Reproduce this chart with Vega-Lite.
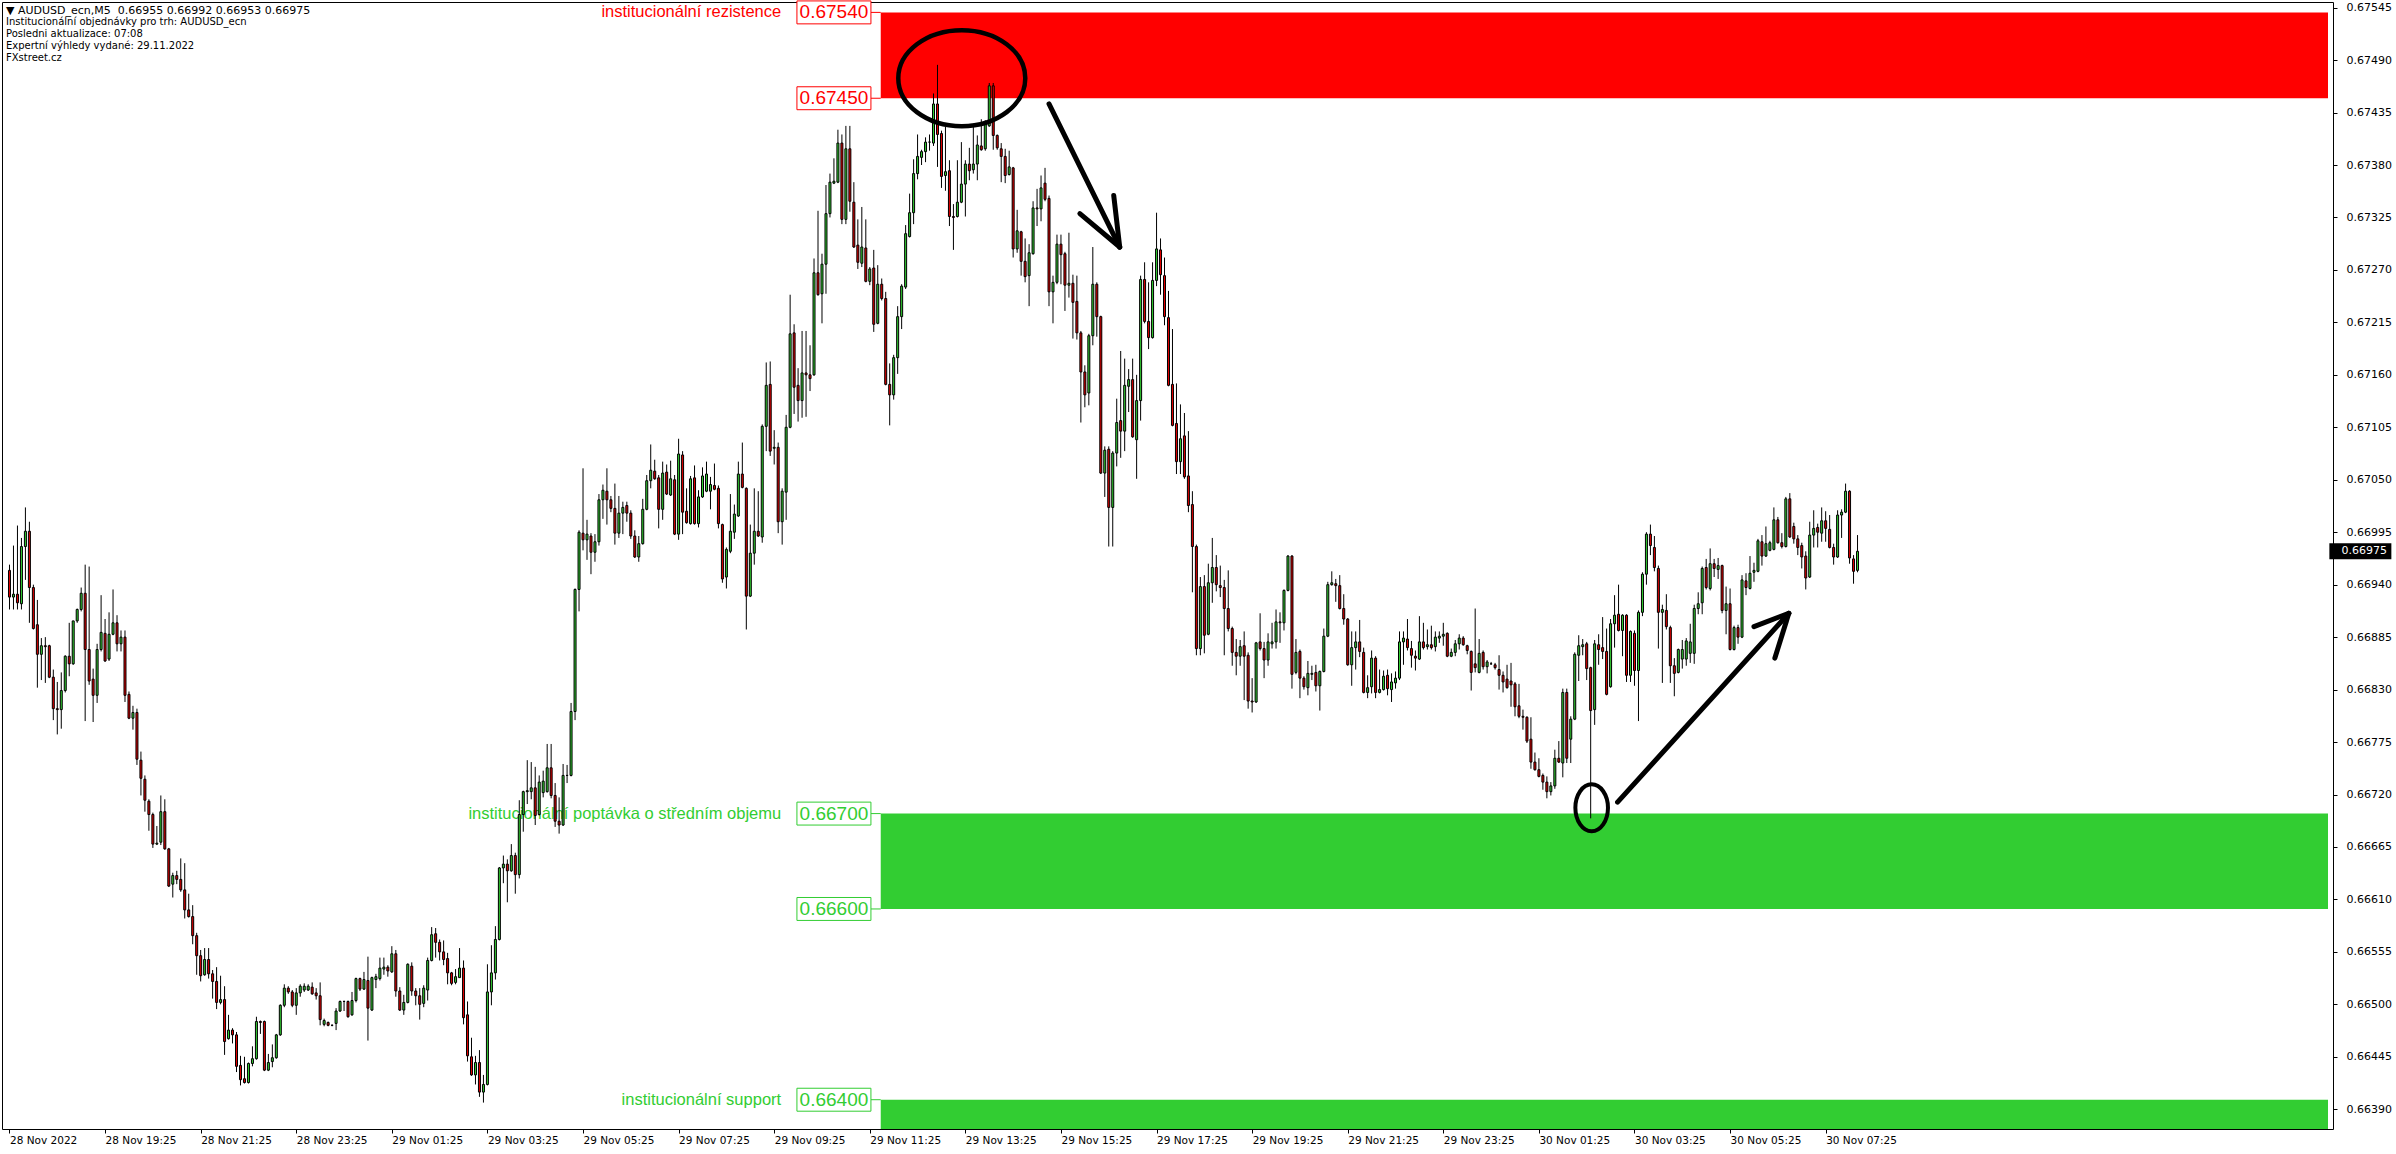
{
"$schema": "https://vega.github.io/schema/vega-lite/v6.json",
"width": 2331, "height": 1127,
"autosize": {"type": "none"},
"padding": {"left": 2, "top": 2, "right": 63, "bottom": 25},
"background": "white",
"config": {"view": {"stroke": "black", "strokeWidth": 1}, "font": "DejaVu Sans"},
"title": {"text": "▼ AUDUSD_ecn,M5\u00a0\u00a00.66955 0.66992 0.66953 0.66975", "subtitle": ["Institucionální objednávky pro trh: AUDUSD_ecn", "Posledni aktualizace: 07:08", "Expertní výhledy vydané: 29.11.2022", "FXstreet.cz"], "anchor": "start", "frame": "group", "orient": "top", "offset": -64, "dx": 4, "font": "DejaVu Sans", "fontSize": 11, "fontWeight": "normal", "color": "black", "subtitleFont": "DejaVu Sans", "subtitleFontSize": 10, "subtitleColor": "black", "subtitleLineHeight": 12, "subtitlePadding": 1},
"datasets": {
"zones": [{"kind": "r", "lo": 0.6745, "hi": 0.6754}, {"kind": "g", "lo": 0.666, "hi": 0.667}, {"kind": "g", "lo": 0.663, "hi": 0.664}],
"names": [{"kind": "r", "p": 0.6754, "name": "institucionální rezistence"}, {"kind": "g", "p": 0.667, "name": "institucionální poptávka o středním objemu"}, {"kind": "g", "p": 0.664, "name": "institucionální support"}],
"levels": [{"kind": "r", "p": 0.6754}, {"kind": "r", "p": 0.6745}, {"kind": "g", "p": 0.667}, {"kind": "g", "p": 0.666}, {"kind": "g", "p": 0.664}],
"arrows": [{"i": 261, "p": 0.67444, "i2": 278.75, "p2": 0.67294}, {"i": 278.75, "p": 0.67294, "i2": 277.25, "p2": 0.67348}, {"i": 278.75, "p": 0.67294, "i2": 268.75, "p2": 0.67329}, {"i": 403.75, "p": 0.66712, "i2": 446.75, "p2": 0.6691}, {"i": 446.75, "p": 0.6691, "i2": 438, "p2": 0.66896}, {"i": 446.75, "p": 0.6691, "i2": 443.25, "p2": 0.66863}],
"candles": [
{"i":0,"o":0.66955,"h":0.66961,"l":0.66914,"c":0.66927},
{"i":1,"o":0.66927,"h":0.66981,"l":0.66914,"c":0.6693},
{"i":2,"o":0.6693,"h":0.67002,"l":0.66914,"c":0.66921},
{"i":3,"o":0.6692,"h":0.66989,"l":0.66914,"c":0.6698},
{"i":4,"o":0.6698,"h":0.67021,"l":0.66945,"c":0.66996},
{"i":5,"o":0.66996,"h":0.67006,"l":0.669,"c":0.66937},
{"i":6,"o":0.66937,"h":0.6694,"l":0.66893,"c":0.66894},
{"i":7,"o":0.66898,"h":0.66924,"l":0.66832,"c":0.66867},
{"i":8,"o":0.66867,"h":0.66884,"l":0.6684,"c":0.66876},
{"i":9,"o":0.66876,"h":0.66885,"l":0.66837,"c":0.66875},
{"i":10,"o":0.66876,"h":0.66877,"l":0.66842,"c":0.66843},
{"i":11,"o":0.66843,"h":0.66851,"l":0.66798,"c":0.6681},
{"i":12,"o":0.6681,"h":0.66838,"l":0.66783,"c":0.66809},
{"i":13,"o":0.66809,"h":0.66848,"l":0.66789,"c":0.66829},
{"i":14,"o":0.66829,"h":0.66866,"l":0.66827,"c":0.66865},
{"i":15,"o":0.66865,"h":0.669,"l":0.66844,"c":0.66857},
{"i":16,"o":0.66857,"h":0.66902,"l":0.66856,"c":0.66902},
{"i":17,"o":0.66902,"h":0.66915,"l":0.669,"c":0.66914},
{"i":18,"o":0.66914,"h":0.66937,"l":0.66912,"c":0.66931},
{"i":19,"o":0.66931,"h":0.66961,"l":0.66797,"c":0.66872},
{"i":20,"o":0.66872,"h":0.66959,"l":0.66835,"c":0.66839},
{"i":21,"o":0.66841,"h":0.66852,"l":0.66796,"c":0.66824},
{"i":22,"o":0.66824,"h":0.66878,"l":0.66816,"c":0.66872},
{"i":23,"o":0.66872,"h":0.66929,"l":0.6687,"c":0.6689},
{"i":24,"o":0.66889,"h":0.66904,"l":0.66859,"c":0.6686},
{"i":25,"o":0.66862,"h":0.66911,"l":0.6686,"c":0.66888},
{"i":26,"o":0.66888,"h":0.66935,"l":0.66887,"c":0.669},
{"i":27,"o":0.669,"h":0.66908,"l":0.6687,"c":0.66878},
{"i":28,"o":0.66878,"h":0.66892,"l":0.6687,"c":0.66885},
{"i":29,"o":0.66885,"h":0.66892,"l":0.66817,"c":0.66824},
{"i":30,"o":0.66825,"h":0.66828,"l":0.66799,"c":0.668},
{"i":31,"o":0.668,"h":0.66813,"l":0.66788,"c":0.66806},
{"i":32,"o":0.66806,"h":0.6681,"l":0.66751,"c":0.66757},
{"i":33,"o":0.66756,"h":0.66765,"l":0.66719,"c":0.66737},
{"i":34,"o":0.66736,"h":0.6674,"l":0.66702,"c":0.66714},
{"i":35,"o":0.66713,"h":0.66715,"l":0.66682,"c":0.66699},
{"i":36,"o":0.66699,"h":0.66701,"l":0.66664,"c":0.66668},
{"i":37,"o":0.66668,"h":0.66687,"l":0.66667,"c":0.66669},
{"i":38,"o":0.6667,"h":0.66719,"l":0.66667,"c":0.66702},
{"i":39,"o":0.66702,"h":0.66715,"l":0.66662,"c":0.66663},
{"i":40,"o":0.66663,"h":0.66664,"l":0.66623,"c":0.66624},
{"i":41,"o":0.66626,"h":0.66638,"l":0.66612,"c":0.66635},
{"i":42,"o":0.66635,"h":0.6664,"l":0.66626,"c":0.66631},
{"i":43,"o":0.66631,"h":0.66653,"l":0.66618,"c":0.6662},
{"i":44,"o":0.6662,"h":0.66648,"l":0.6659,"c":0.66599},
{"i":45,"o":0.66599,"h":0.66616,"l":0.66591,"c":0.66592},
{"i":46,"o":0.66592,"h":0.66604,"l":0.66563,"c":0.66572},
{"i":47,"o":0.66572,"h":0.66575,"l":0.66531,"c":0.66551},
{"i":48,"o":0.66551,"h":0.66557,"l":0.66524,"c":0.6653},
{"i":49,"o":0.66531,"h":0.66559,"l":0.6653,"c":0.66547},
{"i":50,"o":0.66547,"h":0.66559,"l":0.66527,"c":0.66532},
{"i":51,"o":0.66532,"h":0.66536,"l":0.66506,"c":0.66524},
{"i":52,"o":0.66524,"h":0.66539,"l":0.66495,"c":0.66502},
{"i":53,"o":0.66502,"h":0.6653,"l":0.665,"c":0.66505},
{"i":54,"o":0.66505,"h":0.66519,"l":0.66447,"c":0.66461},
{"i":55,"o":0.66464,"h":0.66489,"l":0.66463,"c":0.66473},
{"i":56,"o":0.66473,"h":0.66475,"l":0.66459,"c":0.66468},
{"i":57,"o":0.66468,"h":0.66471,"l":0.66429,"c":0.66435},
{"i":58,"o":0.66436,"h":0.66446,"l":0.66415,"c":0.66421},
{"i":59,"o":0.66422,"h":0.66445,"l":0.66417,"c":0.66418},
{"i":60,"o":0.66418,"h":0.66439,"l":0.66417,"c":0.66438},
{"i":61,"o":0.66438,"h":0.66456,"l":0.66435,"c":0.66443},
{"i":62,"o":0.66443,"h":0.66487,"l":0.66442,"c":0.66482},
{"i":63,"o":0.66482,"h":0.66483,"l":0.66469,"c":0.66481},
{"i":64,"o":0.66482,"h":0.66483,"l":0.6643,"c":0.66431},
{"i":65,"o":0.66431,"h":0.66448,"l":0.6643,"c":0.66439},
{"i":66,"o":0.6644,"h":0.66458,"l":0.66434,"c":0.66444},
{"i":67,"o":0.66444,"h":0.66469,"l":0.66443,"c":0.66468},
{"i":68,"o":0.66468,"h":0.665,"l":0.66467,"c":0.66499},
{"i":69,"o":0.66499,"h":0.66521,"l":0.66497,"c":0.66517},
{"i":70,"o":0.66517,"h":0.66519,"l":0.66511,"c":0.66513},
{"i":71,"o":0.66513,"h":0.66515,"l":0.66497,"c":0.66499},
{"i":72,"o":0.66499,"h":0.66517,"l":0.66489,"c":0.66512},
{"i":73,"o":0.66512,"h":0.66521,"l":0.66508,"c":0.66519},
{"i":74,"o":0.66515,"h":0.66522,"l":0.66513,"c":0.66519},
{"i":75,"o":0.66515,"h":0.66521,"l":0.66514,"c":0.66519},
{"i":76,"o":0.66518,"h":0.66523,"l":0.6651,"c":0.66511},
{"i":77,"o":0.66512,"h":0.66517,"l":0.66505,"c":0.66509},
{"i":78,"o":0.66509,"h":0.66523,"l":0.66478,"c":0.66484},
{"i":79,"o":0.66479,"h":0.66485,"l":0.66477,"c":0.66483},
{"i":80,"o":0.66481,"h":0.66482,"l":0.66477,"c":0.66478},
{"i":81,"o":0.66478,"h":0.66479,"l":0.66477,"c":0.66478},
{"i":82,"o":0.6648,"h":0.66496,"l":0.66473,"c":0.66493},
{"i":83,"o":0.66493,"h":0.66504,"l":0.66492,"c":0.66503},
{"i":84,"o":0.66503,"h":0.66504,"l":0.66493,"c":0.66503},
{"i":85,"o":0.66503,"h":0.66504,"l":0.66486,"c":0.66487},
{"i":86,"o":0.66489,"h":0.66513,"l":0.66488,"c":0.66504},
{"i":87,"o":0.66504,"h":0.66528,"l":0.66502,"c":0.66527},
{"i":88,"o":0.66527,"h":0.66528,"l":0.66514,"c":0.66516},
{"i":89,"o":0.66516,"h":0.66534,"l":0.66515,"c":0.66526},
{"i":90,"o":0.66525,"h":0.6655,"l":0.66462,"c":0.66496},
{"i":91,"o":0.66494,"h":0.66529,"l":0.66493,"c":0.66528},
{"i":92,"o":0.66526,"h":0.66532,"l":0.66517,"c":0.66529},
{"i":93,"o":0.66527,"h":0.66549,"l":0.66525,"c":0.66538},
{"i":94,"o":0.66537,"h":0.66549,"l":0.66531,"c":0.66539},
{"i":95,"o":0.66539,"h":0.66541,"l":0.66529,"c":0.66535},
{"i":96,"o":0.66534,"h":0.66561,"l":0.66533,"c":0.66553},
{"i":97,"o":0.66553,"h":0.66557,"l":0.66508,"c":0.66514},
{"i":98,"o":0.66514,"h":0.66518,"l":0.66493,"c":0.66494},
{"i":99,"o":0.66494,"h":0.6651,"l":0.66489,"c":0.66502},
{"i":100,"o":0.66502,"h":0.66543,"l":0.66501,"c":0.66542},
{"i":101,"o":0.6654,"h":0.66544,"l":0.66509,"c":0.66514},
{"i":102,"o":0.66514,"h":0.66517,"l":0.66499,"c":0.66509},
{"i":103,"o":0.66509,"h":0.66517,"l":0.66484,"c":0.665},
{"i":104,"o":0.66501,"h":0.6652,"l":0.66497,"c":0.66517},
{"i":105,"o":0.66515,"h":0.66549,"l":0.66504,"c":0.66546},
{"i":106,"o":0.66546,"h":0.66581,"l":0.66545,"c":0.66573},
{"i":107,"o":0.66574,"h":0.6658,"l":0.66549,"c":0.66565},
{"i":108,"o":0.66565,"h":0.66568,"l":0.66546,"c":0.66555},
{"i":109,"o":0.66555,"h":0.66567,"l":0.66541,"c":0.66547},
{"i":110,"o":0.66548,"h":0.66554,"l":0.66521,"c":0.66533},
{"i":111,"o":0.66533,"h":0.66534,"l":0.6652,"c":0.66522},
{"i":112,"o":0.66523,"h":0.66537,"l":0.66521,"c":0.66529},
{"i":113,"o":0.66528,"h":0.66559,"l":0.66528,"c":0.66538},
{"i":114,"o":0.66538,"h":0.66546,"l":0.66479,"c":0.66486},
{"i":115,"o":0.66489,"h":0.66503,"l":0.6644,"c":0.66446},
{"i":116,"o":0.66445,"h":0.66465,"l":0.66425,"c":0.66426},
{"i":117,"o":0.66426,"h":0.66446,"l":0.66416,"c":0.66439},
{"i":118,"o":0.66439,"h":0.66452,"l":0.66403,"c":0.66408},
{"i":119,"o":0.66408,"h":0.66426,"l":0.66397,"c":0.66416},
{"i":120,"o":0.66416,"h":0.66542,"l":0.66415,"c":0.66513},
{"i":121,"o":0.66513,"h":0.66562,"l":0.66499,"c":0.66533},
{"i":122,"o":0.66533,"h":0.66582,"l":0.66526,"c":0.66568},
{"i":123,"o":0.66568,"h":0.66644,"l":0.66567,"c":0.66643},
{"i":124,"o":0.66643,"h":0.66656,"l":0.66627,"c":0.66647},
{"i":125,"o":0.66647,"h":0.66652,"l":0.66607,"c":0.6664},
{"i":126,"o":0.6664,"h":0.66668,"l":0.66639,"c":0.66656},
{"i":127,"o":0.66656,"h":0.66659,"l":0.66616,"c":0.66636},
{"i":128,"o":0.66636,"h":0.66714,"l":0.66632,"c":0.66699},
{"i":129,"o":0.66699,"h":0.66724,"l":0.66681,"c":0.66723},
{"i":130,"o":0.66723,"h":0.66756,"l":0.6671,"c":0.66724},
{"i":131,"o":0.66723,"h":0.66754,"l":0.66715,"c":0.66727},
{"i":132,"o":0.66727,"h":0.66749,"l":0.66688,"c":0.66698},
{"i":133,"o":0.66699,"h":0.6674,"l":0.66698,"c":0.66733},
{"i":134,"o":0.66722,"h":0.66745,"l":0.66717,"c":0.66734},
{"i":135,"o":0.66723,"h":0.66773,"l":0.66722,"c":0.66748},
{"i":136,"o":0.66748,"h":0.66773,"l":0.66716,"c":0.66719},
{"i":137,"o":0.66719,"h":0.66732,"l":0.66686,"c":0.66692},
{"i":138,"o":0.66692,"h":0.66717,"l":0.66679,"c":0.66688},
{"i":139,"o":0.66688,"h":0.66752,"l":0.66687,"c":0.6674},
{"i":140,"o":0.6674,"h":0.66751,"l":0.66732,"c":0.6674},
{"i":141,"o":0.6674,"h":0.66816,"l":0.66739,"c":0.66807},
{"i":142,"o":0.66807,"h":0.66936,"l":0.66798,"c":0.66935},
{"i":143,"o":0.66935,"h":0.66997,"l":0.66912,"c":0.66995},
{"i":144,"o":0.66994,"h":0.67062,"l":0.66976,"c":0.66987},
{"i":145,"o":0.66987,"h":0.67008,"l":0.66966,"c":0.66993},
{"i":146,"o":0.66991,"h":0.66994,"l":0.66951,"c":0.66974},
{"i":147,"o":0.66974,"h":0.66993,"l":0.66964,"c":0.66985},
{"i":148,"o":0.66985,"h":0.67035,"l":0.66981,"c":0.67029},
{"i":149,"o":0.67029,"h":0.67045,"l":0.67009,"c":0.67039},
{"i":150,"o":0.67038,"h":0.67062,"l":0.67003,"c":0.67029},
{"i":151,"o":0.67029,"h":0.67033,"l":0.67016,"c":0.6702},
{"i":152,"o":0.6702,"h":0.67046,"l":0.66982,"c":0.66994},
{"i":153,"o":0.66994,"h":0.67033,"l":0.66989,"c":0.67015},
{"i":154,"o":0.67015,"h":0.67027,"l":0.66993,"c":0.67021},
{"i":155,"o":0.67023,"h":0.67027,"l":0.67006,"c":0.67015},
{"i":156,"o":0.67015,"h":0.67018,"l":0.66988,"c":0.66991},
{"i":157,"o":0.66991,"h":0.66997,"l":0.66968,"c":0.66969},
{"i":158,"o":0.66969,"h":0.66991,"l":0.66964,"c":0.66983},
{"i":159,"o":0.66983,"h":0.6703,"l":0.66982,"c":0.67019},
{"i":160,"o":0.67019,"h":0.67055,"l":0.67018,"c":0.67049},
{"i":161,"o":0.67049,"h":0.67087,"l":0.67041,"c":0.6706},
{"i":162,"o":0.67059,"h":0.67071,"l":0.6705,"c":0.67051},
{"i":163,"o":0.67052,"h":0.67055,"l":0.66999,"c":0.67019},
{"i":164,"o":0.67019,"h":0.67069,"l":0.67008,"c":0.67057},
{"i":165,"o":0.67058,"h":0.67066,"l":0.67034,"c":0.67035},
{"i":166,"o":0.67034,"h":0.6707,"l":0.67033,"c":0.67051},
{"i":167,"o":0.6705,"h":0.67055,"l":0.66992,"c":0.66993},
{"i":168,"o":0.66993,"h":0.67093,"l":0.66987,"c":0.67077},
{"i":169,"o":0.67076,"h":0.6708,"l":0.66993,"c":0.67016},
{"i":170,"o":0.67017,"h":0.67041,"l":0.67004,"c":0.67005},
{"i":171,"o":0.67004,"h":0.67054,"l":0.67003,"c":0.67051},
{"i":172,"o":0.67052,"h":0.67065,"l":0.67003,"c":0.67004},
{"i":173,"o":0.67004,"h":0.67039,"l":0.67,"c":0.67032},
{"i":174,"o":0.67032,"h":0.67063,"l":0.67031,"c":0.67054},
{"i":175,"o":0.67038,"h":0.67069,"l":0.67037,"c":0.67056},
{"i":176,"o":0.67038,"h":0.67053,"l":0.67019,"c":0.67045},
{"i":177,"o":0.67044,"h":0.67067,"l":0.67039,"c":0.6704},
{"i":178,"o":0.67041,"h":0.67044,"l":0.66999,"c":0.67004},
{"i":179,"o":0.67003,"h":0.67004,"l":0.66942,"c":0.66946},
{"i":180,"o":0.66948,"h":0.66979,"l":0.66936,"c":0.66977},
{"i":181,"o":0.66975,"h":0.67035,"l":0.66973,"c":0.66996},
{"i":182,"o":0.66995,"h":0.67024,"l":0.66988,"c":0.67014},
{"i":183,"o":0.67012,"h":0.67069,"l":0.67011,"c":0.67056},
{"i":184,"o":0.67056,"h":0.67089,"l":0.67041,"c":0.67042},
{"i":185,"o":0.67041,"h":0.67042,"l":0.66893,"c":0.66928},
{"i":186,"o":0.66928,"h":0.67003,"l":0.66927,"c":0.66973},
{"i":187,"o":0.66973,"h":0.67041,"l":0.66961,"c":0.66996},
{"i":188,"o":0.66996,"h":0.67038,"l":0.6699,"c":0.66991},
{"i":189,"o":0.6699,"h":0.67108,"l":0.66984,"c":0.67106},
{"i":190,"o":0.67106,"h":0.67173,"l":0.6708,"c":0.67149},
{"i":191,"o":0.6715,"h":0.67174,"l":0.67075,"c":0.6708},
{"i":192,"o":0.67083,"h":0.67102,"l":0.67066,"c":0.67084},
{"i":193,"o":0.67084,"h":0.67089,"l":0.66994,"c":0.67006},
{"i":194,"o":0.67006,"h":0.67041,"l":0.66982,"c":0.67038},
{"i":195,"o":0.67037,"h":0.67118,"l":0.67008,"c":0.67105},
{"i":196,"o":0.67105,"h":0.67244,"l":0.67104,"c":0.67203},
{"i":197,"o":0.67204,"h":0.67213,"l":0.67119,"c":0.67147},
{"i":198,"o":0.67149,"h":0.67167,"l":0.67111,"c":0.67133},
{"i":199,"o":0.67133,"h":0.67206,"l":0.67115,"c":0.67162},
{"i":200,"o":0.67162,"h":0.67206,"l":0.67116,"c":0.6716},
{"i":201,"o":0.6716,"h":0.67191,"l":0.67143,"c":0.67156},
{"i":202,"o":0.6716,"h":0.67282,"l":0.67159,"c":0.67267},
{"i":203,"o":0.67267,"h":0.67332,"l":0.67243,"c":0.67244},
{"i":204,"o":0.67245,"h":0.67287,"l":0.67214,"c":0.67276},
{"i":205,"o":0.67276,"h":0.67359,"l":0.67245,"c":0.67329},
{"i":206,"o":0.67329,"h":0.67371,"l":0.67325,"c":0.67362},
{"i":207,"o":0.67361,"h":0.67387,"l":0.6736,"c":0.67363},
{"i":208,"o":0.67362,"h":0.67417,"l":0.67361,"c":0.67403},
{"i":209,"o":0.67403,"h":0.67412,"l":0.67318,"c":0.67323},
{"i":210,"o":0.67323,"h":0.67421,"l":0.67318,"c":0.67397},
{"i":211,"o":0.67397,"h":0.67421,"l":0.67331,"c":0.67342},
{"i":212,"o":0.67341,"h":0.67362,"l":0.67293,"c":0.67294},
{"i":213,"o":0.67296,"h":0.67323,"l":0.67271,"c":0.67278},
{"i":214,"o":0.67277,"h":0.67336,"l":0.67273,"c":0.67294},
{"i":215,"o":0.67293,"h":0.67323,"l":0.67257,"c":0.67258},
{"i":216,"o":0.67258,"h":0.67273,"l":0.67254,"c":0.67271},
{"i":217,"o":0.67272,"h":0.67291,"l":0.67205,"c":0.67213},
{"i":218,"o":0.67214,"h":0.67275,"l":0.67213,"c":0.67255},
{"i":219,"o":0.67255,"h":0.67261,"l":0.67238,"c":0.6724},
{"i":220,"o":0.6724,"h":0.67247,"l":0.67149,"c":0.6715},
{"i":221,"o":0.6715,"h":0.67172,"l":0.67107,"c":0.67139},
{"i":222,"o":0.67139,"h":0.67181,"l":0.67134,"c":0.67178},
{"i":223,"o":0.67178,"h":0.67232,"l":0.67161,"c":0.67221},
{"i":224,"o":0.67221,"h":0.67255,"l":0.67208,"c":0.67253},
{"i":225,"o":0.67252,"h":0.67317,"l":0.6725,"c":0.67308},
{"i":226,"o":0.67305,"h":0.6735,"l":0.67304,"c":0.6733},
{"i":227,"o":0.6733,"h":0.67386,"l":0.67318,"c":0.67371},
{"i":228,"o":0.67371,"h":0.67412,"l":0.67365,"c":0.67389},
{"i":229,"o":0.67388,"h":0.67396,"l":0.6738,"c":0.67394},
{"i":230,"o":0.67394,"h":0.67409,"l":0.67383,"c":0.67404},
{"i":231,"o":0.67404,"h":0.67412,"l":0.67395,"c":0.67404},
{"i":232,"o":0.67403,"h":0.67455,"l":0.674,"c":0.67444},
{"i":233,"o":0.67444,"h":0.67485,"l":0.67378,"c":0.67412},
{"i":234,"o":0.67413,"h":0.67416,"l":0.67356,"c":0.67368},
{"i":235,"o":0.67369,"h":0.6742,"l":0.67353,"c":0.67373},
{"i":236,"o":0.67374,"h":0.67385,"l":0.67316,"c":0.67326},
{"i":237,"o":0.67326,"h":0.67339,"l":0.67291,"c":0.67325},
{"i":238,"o":0.67326,"h":0.67385,"l":0.67325,"c":0.67341},
{"i":239,"o":0.67341,"h":0.67404,"l":0.6734,"c":0.6736},
{"i":240,"o":0.6736,"h":0.67385,"l":0.67326,"c":0.67381},
{"i":241,"o":0.67381,"h":0.67398,"l":0.67364,"c":0.67374},
{"i":242,"o":0.67375,"h":0.67421,"l":0.67371,"c":0.67381},
{"i":243,"o":0.67381,"h":0.67411,"l":0.67364,"c":0.67401},
{"i":244,"o":0.674,"h":0.67428,"l":0.67395,"c":0.67396},
{"i":245,"o":0.67397,"h":0.67427,"l":0.67395,"c":0.67423},
{"i":246,"o":0.67421,"h":0.67466,"l":0.6742,"c":0.67463},
{"i":247,"o":0.67463,"h":0.67466,"l":0.67396,"c":0.67411},
{"i":248,"o":0.67411,"h":0.67412,"l":0.67396,"c":0.67398},
{"i":249,"o":0.67397,"h":0.67403,"l":0.67362,"c":0.67389},
{"i":250,"o":0.67389,"h":0.67397,"l":0.67361,"c":0.67369},
{"i":251,"o":0.6737,"h":0.67395,"l":0.67369,"c":0.67378},
{"i":252,"o":0.67377,"h":0.67378,"l":0.67283,"c":0.67292},
{"i":253,"o":0.67292,"h":0.67333,"l":0.67288,"c":0.67311},
{"i":254,"o":0.6731,"h":0.67311,"l":0.67264,"c":0.67279},
{"i":255,"o":0.67279,"h":0.67303,"l":0.67257,"c":0.67263},
{"i":256,"o":0.67264,"h":0.67297,"l":0.67232,"c":0.67288},
{"i":257,"o":0.67287,"h":0.67342,"l":0.67286,"c":0.67335},
{"i":258,"o":0.67335,"h":0.67355,"l":0.67316,"c":0.67334},
{"i":259,"o":0.67334,"h":0.67369,"l":0.67321,"c":0.67356},
{"i":260,"o":0.67361,"h":0.67377,"l":0.67342,"c":0.67344},
{"i":261,"o":0.67345,"h":0.67348,"l":0.67232,"c":0.67247},
{"i":262,"o":0.67247,"h":0.67264,"l":0.67214,"c":0.67257},
{"i":263,"o":0.67257,"h":0.67307,"l":0.67255,"c":0.67297},
{"i":264,"o":0.67297,"h":0.67307,"l":0.67255,"c":0.67286},
{"i":265,"o":0.67287,"h":0.67289,"l":0.67227,"c":0.67254},
{"i":266,"o":0.67254,"h":0.67309,"l":0.67241,"c":0.67256},
{"i":267,"o":0.67256,"h":0.67265,"l":0.67198,"c":0.67236},
{"i":268,"o":0.67237,"h":0.67264,"l":0.67197,"c":0.67204},
{"i":269,"o":0.67204,"h":0.67206,"l":0.6711,"c":0.67163},
{"i":270,"o":0.67163,"h":0.6717,"l":0.67126,"c":0.67139},
{"i":271,"o":0.67141,"h":0.67203,"l":0.67128,"c":0.67201},
{"i":272,"o":0.67201,"h":0.67294,"l":0.67191,"c":0.67255},
{"i":273,"o":0.67255,"h":0.67257,"l":0.672,"c":0.67221},
{"i":274,"o":0.67221,"h":0.67222,"l":0.67056,"c":0.67057},
{"i":275,"o":0.67057,"h":0.67085,"l":0.67032,"c":0.67081},
{"i":276,"o":0.67082,"h":0.67085,"l":0.6698,"c":0.67021},
{"i":277,"o":0.67021,"h":0.6708,"l":0.6698,"c":0.67078},
{"i":278,"o":0.67078,"h":0.67135,"l":0.67064,"c":0.6711},
{"i":279,"o":0.67112,"h":0.67185,"l":0.67073,"c":0.67101},
{"i":280,"o":0.67101,"h":0.67177,"l":0.6708,"c":0.67149},
{"i":281,"o":0.67148,"h":0.67166,"l":0.67121,"c":0.67155},
{"i":282,"o":0.67155,"h":0.67177,"l":0.67094,"c":0.67095},
{"i":283,"o":0.67092,"h":0.6716,"l":0.67051,"c":0.67133},
{"i":284,"o":0.67133,"h":0.67264,"l":0.67112,"c":0.6726},
{"i":285,"o":0.6726,"h":0.67278,"l":0.67214,"c":0.67216},
{"i":286,"o":0.67216,"h":0.67257,"l":0.67187,"c":0.67199},
{"i":287,"o":0.67199,"h":0.67278,"l":0.67198,"c":0.67259},
{"i":288,"o":0.67259,"h":0.6733,"l":0.67253,"c":0.67292},
{"i":289,"o":0.67291,"h":0.67303,"l":0.67244,"c":0.67265},
{"i":290,"o":0.67264,"h":0.67283,"l":0.67212,"c":0.67221},
{"i":291,"o":0.6722,"h":0.67248,"l":0.67148,"c":0.67149},
{"i":292,"o":0.6715,"h":0.67208,"l":0.67106,"c":0.67107},
{"i":293,"o":0.67109,"h":0.67151,"l":0.67056,"c":0.67069},
{"i":294,"o":0.67069,"h":0.67129,"l":0.67056,"c":0.67093},
{"i":295,"o":0.67096,"h":0.6712,"l":0.67051,"c":0.67053},
{"i":296,"o":0.67054,"h":0.67101,"l":0.67016,"c":0.67023},
{"i":297,"o":0.67024,"h":0.67038,"l":0.66932,"c":0.6698},
{"i":298,"o":0.6698,"h":0.66982,"l":0.66866,"c":0.66873},
{"i":299,"o":0.66873,"h":0.66948,"l":0.66866,"c":0.66938},
{"i":300,"o":0.66938,"h":0.6695,"l":0.66868,"c":0.66887},
{"i":301,"o":0.66888,"h":0.66962,"l":0.66887,"c":0.66942},
{"i":302,"o":0.66942,"h":0.66989,"l":0.66921,"c":0.66958},
{"i":303,"o":0.66958,"h":0.66971,"l":0.66933,"c":0.6694},
{"i":304,"o":0.66939,"h":0.6696,"l":0.66927,"c":0.66937},
{"i":305,"o":0.66937,"h":0.66945,"l":0.66866,"c":0.66915},
{"i":306,"o":0.66915,"h":0.66955,"l":0.66891,"c":0.66894},
{"i":307,"o":0.66894,"h":0.66896,"l":0.66855,"c":0.66869},
{"i":308,"o":0.66869,"h":0.66883,"l":0.66845,"c":0.66865},
{"i":309,"o":0.66865,"h":0.66882,"l":0.66855,"c":0.66875},
{"i":310,"o":0.66876,"h":0.66891,"l":0.66819,"c":0.66865},
{"i":311,"o":0.66866,"h":0.66869,"l":0.6681,"c":0.66818},
{"i":312,"o":0.66818,"h":0.66842,"l":0.66806,"c":0.66817},
{"i":313,"o":0.66817,"h":0.6688,"l":0.66816,"c":0.66879},
{"i":314,"o":0.6688,"h":0.6691,"l":0.66871,"c":0.66873},
{"i":315,"o":0.66873,"h":0.6688,"l":0.66842,"c":0.66861},
{"i":316,"o":0.66861,"h":0.66889,"l":0.66855,"c":0.6688},
{"i":317,"o":0.66878,"h":0.669,"l":0.66873,"c":0.6688},
{"i":318,"o":0.6688,"h":0.66914,"l":0.66873,"c":0.66901},
{"i":319,"o":0.66901,"h":0.66911,"l":0.66879,"c":0.669},
{"i":320,"o":0.669,"h":0.66935,"l":0.66892,"c":0.66934},
{"i":321,"o":0.66934,"h":0.66971,"l":0.66933,"c":0.6697},
{"i":322,"o":0.6697,"h":0.66971,"l":0.66831,"c":0.66846},
{"i":323,"o":0.66848,"h":0.66883,"l":0.66846,"c":0.66869},
{"i":324,"o":0.6687,"h":0.66872,"l":0.66821,"c":0.66842},
{"i":325,"o":0.66842,"h":0.66844,"l":0.6683,"c":0.66833},
{"i":326,"o":0.66832,"h":0.6686,"l":0.66824,"c":0.66847},
{"i":327,"o":0.66846,"h":0.66855,"l":0.6684,"c":0.66847},
{"i":328,"o":0.66848,"h":0.66856,"l":0.66828,"c":0.66834},
{"i":329,"o":0.66834,"h":0.6685,"l":0.66808,"c":0.66849},
{"i":330,"o":0.66849,"h":0.66894,"l":0.66848,"c":0.66886},
{"i":331,"o":0.66886,"h":0.66943,"l":0.66885,"c":0.6694},
{"i":332,"o":0.6694,"h":0.66954,"l":0.66939,"c":0.66942},
{"i":333,"o":0.66941,"h":0.66946,"l":0.66922,"c":0.66939},
{"i":334,"o":0.66939,"h":0.6695,"l":0.66914,"c":0.66915},
{"i":335,"o":0.66915,"h":0.6693,"l":0.66898,"c":0.66904},
{"i":336,"o":0.66904,"h":0.66905,"l":0.66855,"c":0.66856},
{"i":337,"o":0.66856,"h":0.66891,"l":0.66834,"c":0.66874},
{"i":338,"o":0.66874,"h":0.66891,"l":0.66851,"c":0.6688},
{"i":339,"o":0.6688,"h":0.66903,"l":0.66864,"c":0.6687},
{"i":340,"o":0.66869,"h":0.66874,"l":0.66826,"c":0.66827},
{"i":341,"o":0.66827,"h":0.66845,"l":0.66821,"c":0.66832},
{"i":342,"o":0.66833,"h":0.66871,"l":0.66826,"c":0.66863},
{"i":343,"o":0.66863,"h":0.66865,"l":0.66821,"c":0.66827},
{"i":344,"o":0.66827,"h":0.66851,"l":0.66826,"c":0.6683},
{"i":345,"o":0.6683,"h":0.6685,"l":0.66829,"c":0.66844},
{"i":346,"o":0.66845,"h":0.66851,"l":0.66824,"c":0.66831},
{"i":347,"o":0.6683,"h":0.66847,"l":0.66817,"c":0.66838},
{"i":348,"o":0.66837,"h":0.66849,"l":0.66831,"c":0.66842},
{"i":349,"o":0.66842,"h":0.66891,"l":0.6684,"c":0.6688},
{"i":350,"o":0.6688,"h":0.66891,"l":0.66856,"c":0.66884},
{"i":351,"o":0.66883,"h":0.66904,"l":0.66871,"c":0.66874},
{"i":352,"o":0.66873,"h":0.66881,"l":0.66853,"c":0.66866},
{"i":353,"o":0.66865,"h":0.66871,"l":0.6685,"c":0.66863},
{"i":354,"o":0.66862,"h":0.66907,"l":0.66861,"c":0.6688},
{"i":355,"o":0.6688,"h":0.669,"l":0.66872,"c":0.66874},
{"i":356,"o":0.66875,"h":0.66893,"l":0.66872,"c":0.66877},
{"i":357,"o":0.66877,"h":0.66897,"l":0.66872,"c":0.66874},
{"i":358,"o":0.66875,"h":0.66891,"l":0.6687,"c":0.66885},
{"i":359,"o":0.66884,"h":0.66891,"l":0.66879,"c":0.66886},
{"i":360,"o":0.66886,"h":0.669,"l":0.66876,"c":0.66888},
{"i":361,"o":0.66889,"h":0.6689,"l":0.66864,"c":0.66865},
{"i":362,"o":0.66865,"h":0.66873,"l":0.66864,"c":0.66869},
{"i":363,"o":0.66869,"h":0.66882,"l":0.66865,"c":0.66878},
{"i":364,"o":0.66878,"h":0.66888,"l":0.66872,"c":0.66884},
{"i":365,"o":0.66884,"h":0.66886,"l":0.66876,"c":0.66877},
{"i":366,"o":0.66876,"h":0.66877,"l":0.66867,"c":0.66871},
{"i":367,"o":0.6687,"h":0.66871,"l":0.66829,"c":0.66848},
{"i":368,"o":0.66857,"h":0.66915,"l":0.66848,"c":0.66853},
{"i":369,"o":0.66848,"h":0.66883,"l":0.66847,"c":0.66868},
{"i":370,"o":0.66869,"h":0.66871,"l":0.66851,"c":0.66854},
{"i":371,"o":0.66854,"h":0.66861,"l":0.66847,"c":0.66859},
{"i":372,"o":0.66857,"h":0.66859,"l":0.66856,"c":0.66857},
{"i":373,"o":0.66856,"h":0.66858,"l":0.66851,"c":0.66853},
{"i":374,"o":0.66851,"h":0.66866,"l":0.6683,"c":0.66845},
{"i":375,"o":0.66845,"h":0.66849,"l":0.66827,"c":0.66838},
{"i":376,"o":0.66841,"h":0.66856,"l":0.66831,"c":0.66832},
{"i":377,"o":0.66839,"h":0.66858,"l":0.66812,"c":0.66835},
{"i":378,"o":0.66836,"h":0.66838,"l":0.66802,"c":0.66812},
{"i":379,"o":0.66813,"h":0.66836,"l":0.668,"c":0.66802},
{"i":380,"o":0.66802,"h":0.66809,"l":0.66788,"c":0.66801},
{"i":381,"o":0.66801,"h":0.66802,"l":0.66774,"c":0.66776},
{"i":382,"o":0.66778,"h":0.66801,"l":0.66747,"c":0.66754},
{"i":383,"o":0.66754,"h":0.66764,"l":0.66745,"c":0.66746},
{"i":384,"o":0.66746,"h":0.66758,"l":0.66738,"c":0.66739},
{"i":385,"o":0.6674,"h":0.66742,"l":0.66725,"c":0.66733},
{"i":386,"o":0.66733,"h":0.66739,"l":0.66716,"c":0.66723},
{"i":387,"o":0.66723,"h":0.66733,"l":0.66719,"c":0.66729},
{"i":388,"o":0.66729,"h":0.66767,"l":0.66726,"c":0.66758},
{"i":389,"o":0.66758,"h":0.66776,"l":0.66753,"c":0.66754},
{"i":390,"o":0.66753,"h":0.66831,"l":0.66738,"c":0.66827},
{"i":391,"o":0.66827,"h":0.66831,"l":0.66753,"c":0.66758},
{"i":392,"o":0.66778,"h":0.66802,"l":0.66753,"c":0.66799},
{"i":393,"o":0.66799,"h":0.66869,"l":0.66798,"c":0.66867},
{"i":394,"o":0.66866,"h":0.66887,"l":0.66839,"c":0.66876},
{"i":395,"o":0.66875,"h":0.66883,"l":0.66866,"c":0.66877},
{"i":396,"o":0.66878,"h":0.6688,"l":0.6684,"c":0.66852},
{"i":397,"o":0.66853,"h":0.66854,"l":0.66695,"c":0.66808},
{"i":398,"o":0.66809,"h":0.66882,"l":0.66793,"c":0.66878},
{"i":399,"o":0.66877,"h":0.66888,"l":0.66856,"c":0.66872},
{"i":400,"o":0.66874,"h":0.66906,"l":0.66862,"c":0.6687},
{"i":401,"o":0.6687,"h":0.66894,"l":0.66824,"c":0.66825},
{"i":402,"o":0.66833,"h":0.66904,"l":0.66832,"c":0.66899},
{"i":403,"o":0.66899,"h":0.66929,"l":0.66874,"c":0.66908},
{"i":404,"o":0.66909,"h":0.6694,"l":0.66891,"c":0.66892},
{"i":405,"o":0.66892,"h":0.66909,"l":0.66865,"c":0.66908},
{"i":406,"o":0.66908,"h":0.66909,"l":0.66838,"c":0.66845},
{"i":407,"o":0.66845,"h":0.66892,"l":0.66838,"c":0.66891},
{"i":408,"o":0.66889,"h":0.66892,"l":0.66834,"c":0.6685},
{"i":409,"o":0.6685,"h":0.66913,"l":0.66797,"c":0.66911},
{"i":410,"o":0.66911,"h":0.66953,"l":0.66907,"c":0.66951},
{"i":411,"o":0.66951,"h":0.66995,"l":0.6694,"c":0.66993},
{"i":412,"o":0.66993,"h":0.67003,"l":0.66971,"c":0.66981},
{"i":413,"o":0.66979,"h":0.66991,"l":0.66954,"c":0.66958},
{"i":414,"o":0.66957,"h":0.6696,"l":0.66873,"c":0.66911},
{"i":415,"o":0.66911,"h":0.66919,"l":0.66837,"c":0.66914},
{"i":416,"o":0.66913,"h":0.6693,"l":0.66893,"c":0.66896},
{"i":417,"o":0.66895,"h":0.66897,"l":0.66837,"c":0.66855},
{"i":418,"o":0.66855,"h":0.66863,"l":0.66823,"c":0.66847},
{"i":419,"o":0.66848,"h":0.66873,"l":0.66847,"c":0.66872},
{"i":420,"o":0.66862,"h":0.66882,"l":0.66852,"c":0.66872},
{"i":421,"o":0.66862,"h":0.66884,"l":0.66855,"c":0.66881},
{"i":422,"o":0.66868,"h":0.66899,"l":0.66858,"c":0.6688},
{"i":423,"o":0.66868,"h":0.66919,"l":0.66857,"c":0.66915},
{"i":424,"o":0.66915,"h":0.66932,"l":0.66909,"c":0.6692},
{"i":425,"o":0.66921,"h":0.66959,"l":0.66909,"c":0.66957},
{"i":426,"o":0.66958,"h":0.66967,"l":0.66935,"c":0.66937},
{"i":427,"o":0.66936,"h":0.66978,"l":0.66934,"c":0.66962},
{"i":428,"o":0.66962,"h":0.66967,"l":0.66948,"c":0.66957},
{"i":429,"o":0.66956,"h":0.66968,"l":0.66946,"c":0.6696},
{"i":430,"o":0.6696,"h":0.66961,"l":0.6691,"c":0.66913},
{"i":431,"o":0.66913,"h":0.66938,"l":0.66888,"c":0.6692},
{"i":432,"o":0.6692,"h":0.66936,"l":0.66871,"c":0.66872},
{"i":433,"o":0.66872,"h":0.66897,"l":0.66871,"c":0.66895},
{"i":434,"o":0.66895,"h":0.66898,"l":0.66878,"c":0.66885},
{"i":435,"o":0.66885,"h":0.6695,"l":0.66884,"c":0.66945},
{"i":436,"o":0.66944,"h":0.66952,"l":0.66929,"c":0.66937},
{"i":437,"o":0.66936,"h":0.6697,"l":0.66935,"c":0.66952},
{"i":438,"o":0.66953,"h":0.66963,"l":0.66943,"c":0.66955},
{"i":439,"o":0.66954,"h":0.66988,"l":0.66953,"c":0.66986},
{"i":440,"o":0.66985,"h":0.66992,"l":0.6696,"c":0.6697},
{"i":441,"o":0.6697,"h":0.67001,"l":0.66969,"c":0.66983},
{"i":442,"o":0.66976,"h":0.66986,"l":0.66975,"c":0.66984},
{"i":443,"o":0.66977,"h":0.67021,"l":0.66976,"c":0.67008},
{"i":444,"o":0.67008,"h":0.67011,"l":0.66983,"c":0.66984},
{"i":445,"o":0.66984,"h":0.66994,"l":0.66978,"c":0.6698},
{"i":446,"o":0.6698,"h":0.67032,"l":0.66979,"c":0.6703},
{"i":447,"o":0.6703,"h":0.67036,"l":0.66989,"c":0.6699},
{"i":448,"o":0.67001,"h":0.67005,"l":0.66983,"c":0.66988},
{"i":449,"o":0.66988,"h":0.66992,"l":0.66971,"c":0.66979},
{"i":450,"o":0.66981,"h":0.66984,"l":0.66957,"c":0.66969},
{"i":451,"o":0.6697,"h":0.66975,"l":0.66935,"c":0.66947},
{"i":452,"o":0.66948,"h":0.67006,"l":0.66947,"c":0.66992},
{"i":453,"o":0.66992,"h":0.67018,"l":0.66979,"c":0.66999},
{"i":454,"o":0.67,"h":0.67004,"l":0.66979,"c":0.66995},
{"i":455,"o":0.66994,"h":0.67021,"l":0.66985,"c":0.67007},
{"i":456,"o":0.67007,"h":0.67017,"l":0.66985,"c":0.66999},
{"i":457,"o":0.66998,"h":0.67013,"l":0.66978,"c":0.66979},
{"i":458,"o":0.66979,"h":0.66983,"l":0.66961,"c":0.66969},
{"i":459,"o":0.66969,"h":0.67018,"l":0.66968,"c":0.67013},
{"i":460,"o":0.67013,"h":0.67019,"l":0.66989,"c":0.67016},
{"i":461,"o":0.67016,"h":0.67046,"l":0.67015,"c":0.67038},
{"i":462,"o":0.67038,"h":0.67039,"l":0.66962,"c":0.66968},
{"i":463,"o":0.66967,"h":0.66971,"l":0.66941,"c":0.66954},
{"i":464,"o":0.66955,"h":0.66992,"l":0.66953,"c":0.66975}
]},
"layer": [
{"data": {"name": "zones"}, "mark": {"type": "rect", "clip": true},
 "encoding": {
  "x": {"datum": 218.75, "type": "quantitative", "title": null, "scale": {"type": "linear", "domain": [-0.625, 582.125], "nice": false, "zero": false}},
  "x2": {"datum": 582.125},
  "y": {"field": "hi", "type": "quantitative", "title": null, "scale": {"domain": [0.663693, 0.675509], "nice": false, "zero": false}},
  "y2": {"field": "lo"},
  "color": {"field": "kind", "type": "nominal", "scale": {"domain": ["r", "g"], "range": ["#FF0000", "#32CD32"]}, "legend": null}}},
{"data": {"name": "names"}, "mark": {"type": "text", "align": "right", "baseline": "middle", "font": "Liberation Sans", "fontSize": 16.5},
 "encoding": {
  "x": {"datum": 193.75, "type": "quantitative", "title": null},
  "y": {"field": "p", "type": "quantitative", "title": null},
  "text": {"field": "name"},
  "color": {"field": "kind", "type": "nominal", "scale": {"domain": ["r", "g"], "range": ["#FF0000", "#32CD32"]}, "legend": null}}},
{"data": {"name": "levels"}, "mark": {"type": "rule", "strokeWidth": 1},
 "encoding": {
  "x": {"datum": 216.25, "type": "quantitative", "title": null},
  "x2": {"datum": 218.75},
  "y": {"field": "p", "type": "quantitative", "title": null},
  "color": {"field": "kind", "type": "nominal", "scale": {"domain": ["r", "g"], "range": ["#FF0000", "#32CD32"]}, "legend": null}}},
{"data": {"name": "levels"}, "mark": {"type": "point", "shape": "M-1,-0.31H1V0.31H-1Z", "size": 5476, "filled": true, "fill": "white", "strokeWidth": 1, "opacity": 1},
 "encoding": {
  "x": {"datum": 207, "type": "quantitative", "title": null},
  "y": {"field": "p", "type": "quantitative", "title": null},
  "stroke": {"field": "kind", "type": "nominal", "scale": {"domain": ["r", "g"], "range": ["#FF0000", "#32CD32"]}, "legend": null}}},
{"data": {"name": "levels"}, "mark": {"type": "text", "align": "center", "baseline": "middle", "font": "Liberation Sans", "fontSize": 19},
 "encoding": {
  "x": {"datum": 207, "type": "quantitative", "title": null},
  "y": {"field": "p", "type": "quantitative", "title": null},
  "text": {"field": "p", "type": "quantitative", "format": ".5f"},
  "color": {"field": "kind", "type": "nominal", "scale": {"domain": ["r", "g"], "range": ["#FF0000", "#32CD32"]}, "legend": null}}},
{"data": {"name": "candles"}, "mark": {"type": "rule", "color": "black", "strokeWidth": 1},
 "encoding": {
  "x": {"field": "i", "type": "quantitative", "title": null, "scale": {"type": "linear", "domain": [-0.625, 582.125], "nice": false, "zero": false},
   "axis": {"orient": "bottom", "values": [0, 24, 48, 72, 96, 120, 144, 168, 192, 216, 240, 264, 288, 312, 336, 360, 384, 408, 432, 456], "labelExpr": "datum.value == 0 ? '28 Nov 2022' : timeFormat(datetime(2022, 10, 28, 17, 25 + datum.value * 5), '%d %b %H:%M')", "labelAlign": "left", "labelBaseline": "top", "labelPadding": 2, "ticks": true, "tickSize": 4, "tickColor": "black", "domain": false, "grid": false, "labelFont": "DejaVu Sans", "labelFontSize": 10.5, "labelColor": "black", "labelFlush": false, "labelOverlap": false}},
  "y": {"field": "l", "type": "quantitative", "title": null, "scale": {"domain": [0.663693, 0.675509], "nice": false, "zero": false},
   "axis": {"orient": "right", "values": [0.6639, 0.66445, 0.665, 0.66555, 0.6661, 0.66665, 0.6672, 0.66775, 0.6683, 0.66885, 0.6694, 0.66995, 0.6705, 0.67105, 0.6716, 0.67215, 0.6727, 0.67325, 0.6738, 0.67435, 0.6749, 0.67545], "format": ".5f", "labelAlign": "left", "labelBaseline": "middle", "ticks": true, "tickSize": 4, "labelPadding": 9, "tickColor": "black", "domain": false, "grid": false, "labelFont": "DejaVu Sans", "labelFontSize": 11, "labelColor": "black", "labelFlush": false, "labelOverlap": false}},
  "y2": {"field": "h"}}},
{"data": {"name": "candles"}, "mark": {"type": "bar", "orient": "vertical", "size": 2, "stroke": "black", "strokeWidth": 1},
 "encoding": {
  "x": {"field": "i", "type": "quantitative", "title": null},
  "y": {"field": "o", "type": "quantitative", "title": null},
  "y2": {"field": "c"},
  "fill": {"condition": {"test": "datum.c >= datum.o", "value": "#32CD32"}, "value": "#E00000"}}},
{"data": {"name": "arrows"}, "mark": {"type": "rule", "color": "black", "strokeWidth": 5, "strokeCap": "round"},
 "encoding": {
  "x": {"field": "i", "type": "quantitative", "title": null},
  "x2": {"field": "i2"},
  "y": {"field": "p", "type": "quantitative", "title": null},
  "y2": {"field": "p2"}}},
{"data": {"values": [{"i": 239.1, "p": 0.67471}]}, "mark": {"type": "point", "shape": "M-1,0A1,0.756 0 1,0 1,0A1,0.756 0 1,0 -1,0Z", "size": 16129, "filled": false, "stroke": "black", "strokeWidth": 4.5, "opacity": 1},
 "encoding": {
  "x": {"field": "i", "type": "quantitative", "title": null},
  "y": {"field": "p", "type": "quantitative", "title": null}}},
{"data": {"values": [{"i": 397.25, "p": 0.66706}]}, "mark": {"type": "point", "shape": "M-0.694,0A0.694,1 0 1,0 0.694,0A0.694,1 0 1,0 -0.694,0Z", "size": 2209, "filled": false, "stroke": "black", "strokeWidth": 4, "opacity": 1},
 "encoding": {
  "x": {"field": "i", "type": "quantitative", "title": null},
  "y": {"field": "p", "type": "quantitative", "title": null}}},
{"data": {"values": [{"p": 0.66975}]}, "mark": {"type": "point", "shape": "M-1,-0.258H1V0.258H-1Z", "size": 3844, "filled": true, "fill": "black", "strokeWidth": 0, "opacity": 1},
 "encoding": {
  "x": {"datum": 590.25, "type": "quantitative", "title": null},
  "y": {"field": "p", "type": "quantitative", "title": null}}},
{"data": {"values": [{"p": 0.66975}]}, "mark": {"type": "text", "align": "left", "baseline": "middle", "font": "DejaVu Sans", "fontSize": 11, "color": "white"},
 "encoding": {
  "x": {"datum": 585.5, "type": "quantitative", "title": null},
  "y": {"field": "p", "type": "quantitative", "title": null},
  "text": {"field": "p", "type": "quantitative", "format": ".5f"}}}
]
}
